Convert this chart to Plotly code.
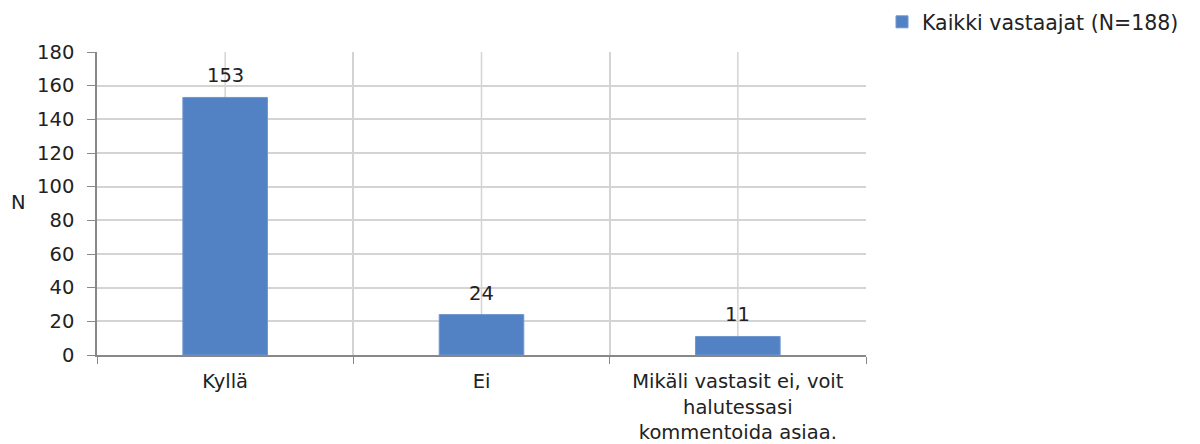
import plotly.graph_objects as go

categories = ["Kyllä", "Ei", "Mikäli vastasit ei, voit<br>halutessasi<br>kommentoida asiaa."]
values = [153, 24, 11]
series_name = "Kaikki vastaajat (N=188)"
y_ticks = [0, 20, 40, 60, 80, 100, 120, 140, 160, 180]

FONT = "DejaVu Sans, Verdana, sans-serif"
FS = 19.5
GRID = "#D4D4D4"
AXIS = "#888888"
TXT = "#222222"

fig = go.Figure()

fig.add_trace(go.Bar(
    x=categories,
    y=values,
    name=series_name,
    width=0.33,
    marker=dict(color="#5282C3", line=dict(color="#6E97CE", width=1)),
    showlegend=True,
))

# value labels above bars
for c, v in zip(categories, values):
    fig.add_annotation(x=c, y=v, text=str(v), showarrow=False,
                       xref="x", yref="y", yanchor="bottom", yshift=8,
                       font=dict(size=FS, family=FONT, color=TXT))

# gridlines through category centres (boundary lines come from the axis)
for c in categories:
    fig.add_shape(type="line", xref="x", yref="paper", x0=c, x1=c, y0=0, y1=1,
                  line=dict(color=GRID, width=1.5), layer="below")

# upright y-axis title
fig.add_annotation(xref="paper", yref="paper", x=(18 - 97) / 769, y=(355 - 202) / 303,
                   xanchor="center", yanchor="middle", text="N", showarrow=False,
                   font=dict(size=FS, family=FONT, color=TXT))

fig.update_layout(
    width=1200,
    height=444,
    margin=dict(l=97, r=334, t=52, b=89, autoexpand=False),
    paper_bgcolor="white",
    plot_bgcolor="white",
    font=dict(family=FONT, size=FS, color=TXT),
    bargap=0.67,
    legend=dict(
        x=(882 - 97) / 769, y=(355 - 22) / 303, xanchor="left", yanchor="middle",
        font=dict(size=20.5, family=FONT, color=TXT),
        itemwidth=30,
        bgcolor="rgba(0,0,0,0)",
    ),
    xaxis=dict(
        type="category",
        tickson="boundaries",
        automargin=False,
        showgrid=True,
        gridcolor=GRID,
        gridwidth=1.5,
        ticks="outside",
        ticklen=7,
        tickcolor=AXIS,
        showline=True,
        linecolor=AXIS,
        linewidth=1.5,
        ticklabelstandoff=8,
        tickfont=dict(size=FS, family=FONT, color=TXT),
    ),
    yaxis=dict(
        range=[0, 180],
        tickvals=y_ticks,
        automargin=False,
        showgrid=True,
        gridcolor=GRID,
        gridwidth=1.5,
        ticks="outside",
        ticklen=8,
        tickcolor=AXIS,
        showline=True,
        linecolor=AXIS,
        linewidth=1.5,
        zeroline=False,
        ticklabelstandoff=9,
        tickfont=dict(size=FS, family=FONT, color=TXT),
    ),
)

fig.write_html("out.html", config={"displayModeBar": False},
               post_script="document.body.style.margin='0';")
